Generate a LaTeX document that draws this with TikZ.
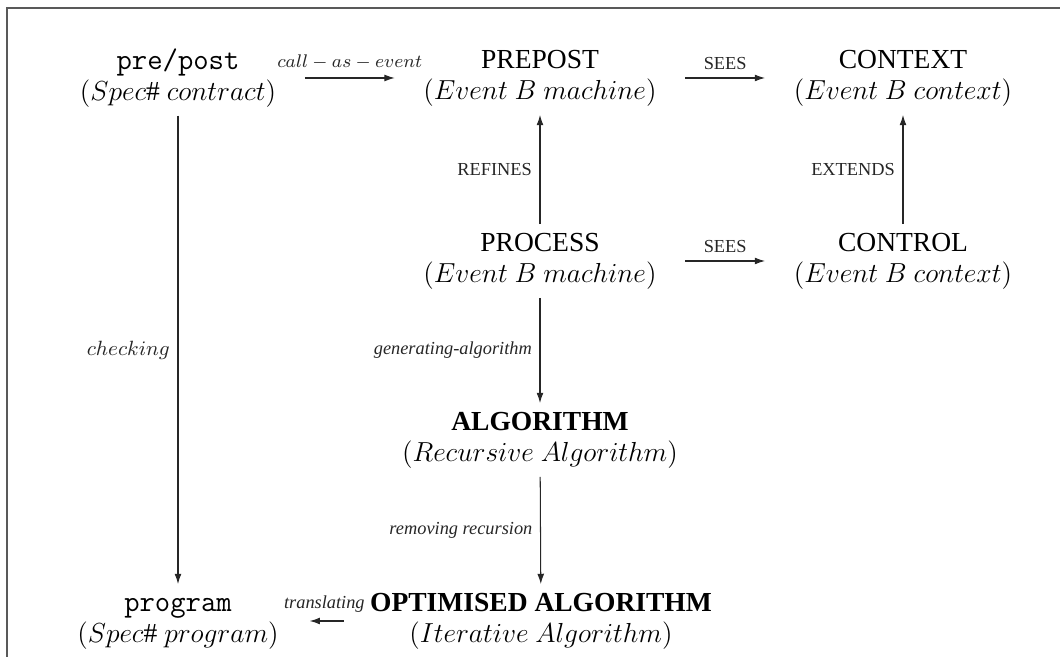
\documentclass[tikz,border=0pt]{standalone}
\usepackage{fontspec}
\setmainfont{Liberation Serif}
\usetikzlibrary{arrows.meta}
\tikzset{
  box/.style={align=center, font=\fontsize{12}{13.8}\selectfont, inner sep=3.33pt},
  lab/.style={font=\fontsize{8}{9.6}\selectfont},
  ilab/.style={font=\fontsize{8}{9.6}\selectfont\itshape},
  arr/.style={-{Latex[length=4.5pt,width=3pt]}, line width=0.45pt, black!85},
  hshort/.style={shorten <=9pt, shorten >=9pt},
  frameline/.style={black!65, line width=0.5pt}
}
\newcommand{\mono}[1]{{\fontsize{13}{13.8}\ttfamily #1}}
\begin{document}
\begin{tikzpicture}[x=0.436pt,y=-0.436pt]
\useasboundingbox (0,0) rectangle (1060,657);
\draw[frameline] (7,657) -- (7,8) -- (1060,8);

\node[box] (pp) at (178,78) {\mono{pre/post}\vphantom{(}\\$(Spec\#\ contract)$};
\node[box] (prepost) at (540,78) {PREPOST\vphantom{(}\\$(Event\ B\ machine)$};
\node[box] (context) at (903,78) {CONTEXT\vphantom{(}\\$(Event\ B\ context)$};
\node[box] (process) at (540,261) {PROCESS\vphantom{(}\\$(Event\ B\ machine)$};
\node[box] (control) at (903,261) {CONTROL\vphantom{(}\\$(Event\ B\ context)$};
\node[box] (algo) at (540,440) {\textbf{ALGORITHM}\vphantom{(}\\$(Recursive\ Algorithm)$};
\node[box] (opt) at (541,621) {\textbf{OPTIMISED ALGORITHM}\vphantom{(}\\$(Iterative\ Algorithm)$};
\node[box] (prog) at (178,621) {\mono{program}\vphantom{(}\\$(Spec\#\ program)$};

\draw[arr, hshort] (pp) -- node[above, lab] (l1) {$call-as-event$} (prepost);
\draw[arr, hshort] (prepost) -- node[above, lab] (l2) {SEES} (context);
\draw[arr] (process) -- node[left, lab] (l3) {REFINES} (prepost);
\draw[arr] (control) -- node[left, lab] (l4) {EXTENDS} (context);
\draw[arr, hshort] (process) -- node[above, lab] (l5) {SEES} (control);
\draw[arr] (pp) -- node[left, font=\fontsize{9}{11}\selectfont] (l6) {$checking$} (prog);
\draw[arr] (process) -- node[left, ilab] (l7) {generating-algorithm} (algo);
\draw[arr] (algo) -- node[left, ilab] (l8) {removing recursion} (opt);
\draw[arr, shorten <=8pt, shorten >=10pt] (opt) -- node[above, ilab] (l9) {translating} (prog);
\end{tikzpicture}
\end{document}
